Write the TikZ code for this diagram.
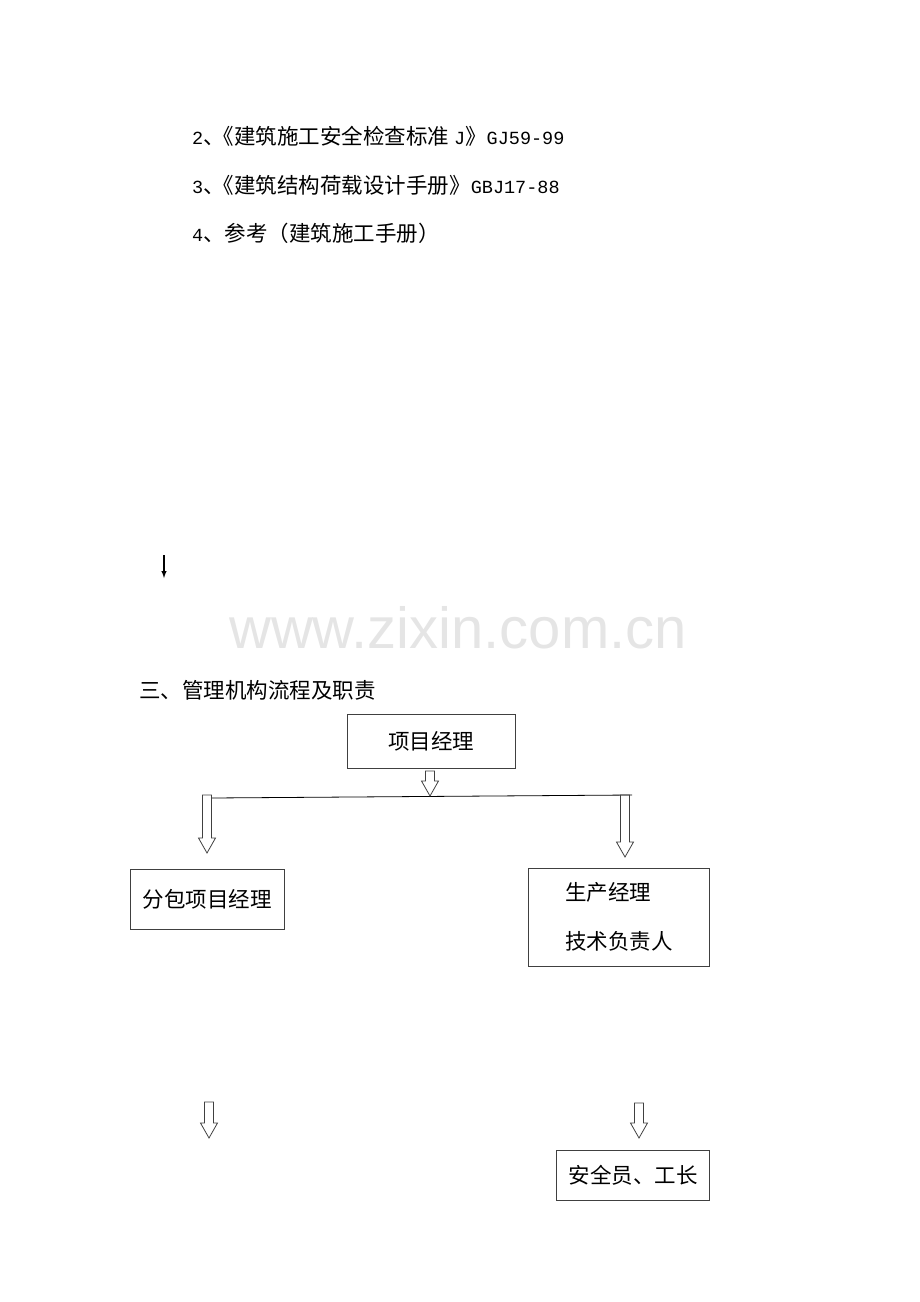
\documentclass[tikz,border=0pt]{standalone}
\usepackage{fontspec}
\setmainfont{Noto Sans CJK SC}
\newfontfamily\monofont{Liberation Mono}
\newfontfamily\wmfont{Liberation Sans}
\definecolor{wmgray}{RGB}{229,229,229}
\newcommand{\latin}[1]{{\monofont\fontsize{18.5}{26}\selectfont #1}}
% hollow down arrow: x, top y, tip y
\newcommand{\hollowdown}[3]{%
  \draw[line width=0.8pt,black!75] (#1-4.5,#2) -- (#1-4.5,#3-15) -- (#1-8.5,#3-15)
    -- (#1,#3) -- (#1+8.5,#3-15) -- (#1+4.5,#3-15) -- (#1+4.5,#2) -- cycle;}

\begin{document}
\begin{tikzpicture}[x=1pt,y=-1pt,
  every node/.style={inner sep=0pt,font=\fontsize{21.5}{26}\selectfont},
  box/.style={draw=black!75,line width=0.8pt}]
  \useasboundingbox (0,0) rectangle (920,1302);
  % references
  \node[anchor=west] (ref2) at (192,136) {\latin{2}、\hspace{-12pt}《建筑施工安全检查标准 \latin{J}》\latin{GJ59-99}};
  \node[anchor=west] (ref3) at (192,185) {\latin{3}、\hspace{-12pt}《建筑结构荷载设计手册》\latin{GBJ17-88}};
  \node[anchor=west] (ref4) at (192,233) {\latin{4}、参考（建筑施工手册）};
  \coordinate (s1) at (164,555);
  \coordinate (s2) at (164,578);
  \draw[-latex,line width=1.4pt] (s1) -- (s2);
  \node[font=\wmfont\fontsize{58}{60}\selectfont,text=wmgray] (wm) at (458,628) {www.zixin.com.cn};
  % chart
  \node[anchor=west] (title) at (139,690) {三、管理机构流程及职责};
  \node[box,minimum width=168,minimum height=54] (pm) at (431,741) {项目经理\hspace{20pt}};
  \node[box,minimum width=154,minimum height=60] (sub) at (207,899) {分包项目经理};
  \node[box,minimum width=181,minimum height=98,align=left] (prod) at (619,917) {生产经理\\[23pt]技术负责人\hspace{4pt}};
  \node[box,minimum width=153,minimum height=50] (safe) at (633,1175) {安全员、工长};
  \coordinate (lineL) at (211,798);
  \coordinate (lineR) at (632,795);
  \draw[line width=0.8pt] (lineL) -- (lineR);
  \hollowdown{430}{771}{796}
  \hollowdown{207}{795}{853}
  \hollowdown{625}{795}{857}
  \hollowdown{209}{1102}{1138}
  \hollowdown{639}{1103}{1138}
\end{tikzpicture}
\end{document}
